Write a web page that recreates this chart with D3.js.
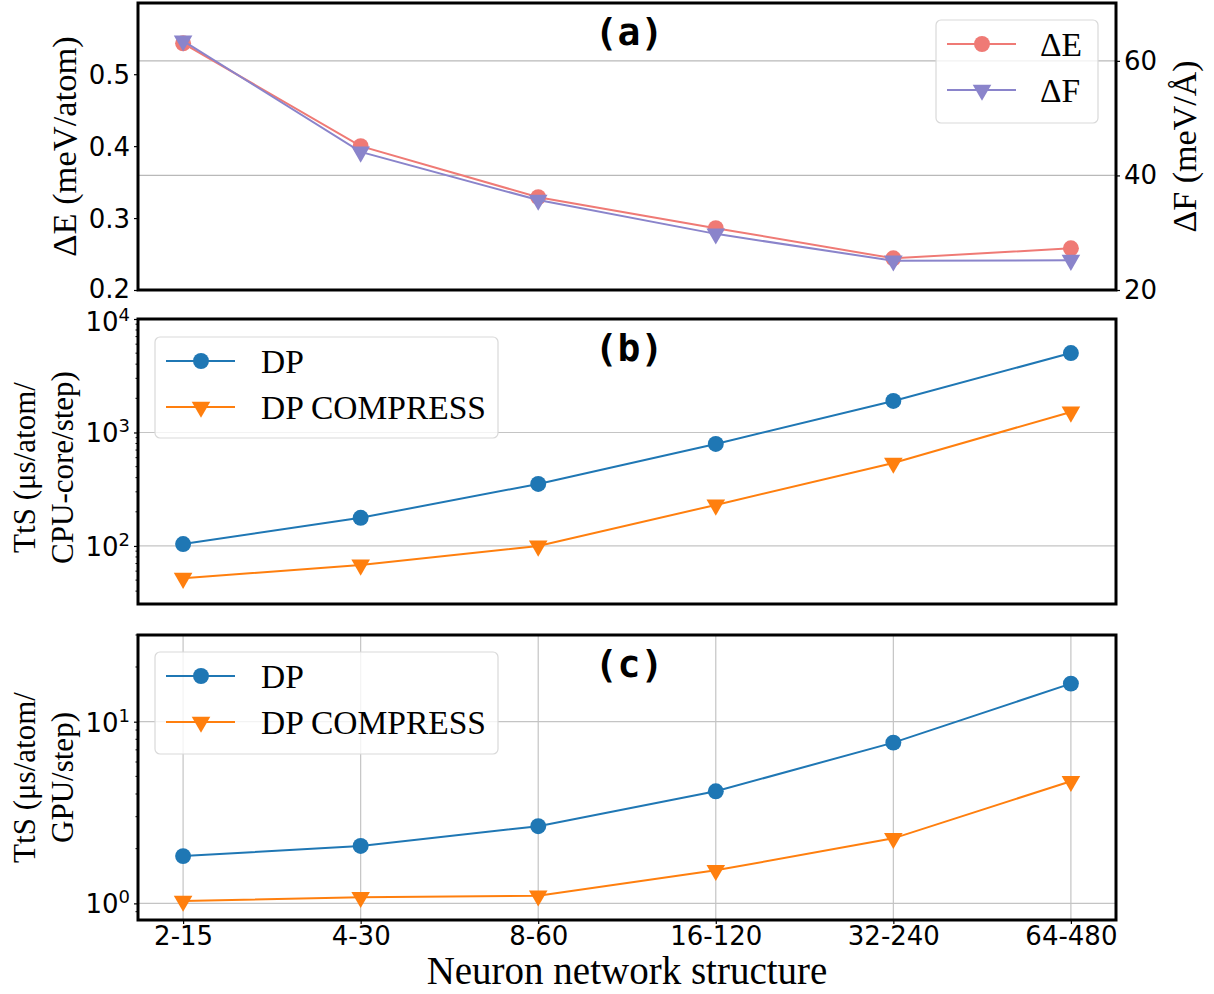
<!DOCTYPE html>
<html>
<head>
<meta charset="utf-8">
<script src="https://cdn.jsdelivr.net/npm/d3@7"></script>
<style>
  body { margin: 0; background: #fff; }
  svg text { fill: #000; }
</style>
</head>
<body>
<div id="chart"></div>
<script>
// ---- data ----
const categories  = ["2-15", "4-30", "8-60", "16-120", "32-240", "64-480"];
const deltaE      = [0.543, 0.400, 0.329, 0.286, 0.244, 0.258];   // meV/atom
const deltaF      = [63.5, 44.1, 35.7, 29.8, 25.1, 25.2];         // meV/Å
const cpuDP       = [104, 177, 352, 792, 1897, 5010];             // µs/atom/CPU-core/step
const cpuCompress = [52, 68, 100, 230, 538, 1517];
const gpuDP       = [1.82, 2.07, 2.66, 4.14, 7.67, 16.2];         // µs/atom/GPU/step
const gpuCompress = [1.03, 1.08, 1.10, 1.52, 2.28, 4.70];

const eTicks   = [0.2, 0.3, 0.4, 0.5];
const fTicks   = [20, 40, 60];
const cpuTicks = [100, 1000, 10000];
const gpuTicks = [1, 10];

const W = 1214, H = 994;
const left = 138, right = 1116;
const tickFont = "'DejaVu Sans', sans-serif";
const serif = "'Liberation Serif', 'Times New Roman', serif";

const svg = d3.select('#chart').append('svg')
  .attr('width', W).attr('height', H);

const x = d3.scaleLinear().domain([-0.254, 5.254]).range([left, right]);

const blue = '#1f77b4', orange = '#ff7f0e';
const pink = '#ef7a75', purple = '#8a84cb';

const circle = d3.symbol(d3.symbolCircle, 200);
const tri = d3.symbol(d3.symbolTriangle, 150);

function drawSeries(g, yScale, vals, color, marker) {
  const line = d3.line().x((d, i) => x(i)).y(d => yScale(d));
  g.append('path').datum(vals)
    .attr('d', line).attr('fill', 'none')
    .attr('stroke', color).attr('stroke-width', 2);
  g.selectAll(null).data(vals).join('path')
    .attr('d', marker === 'o' ? circle : tri)
    .attr('transform', (d, i) => `translate(${x(i)},${yScale(d)})` + (marker === 'v' ? ' rotate(180)' : ''))
    .attr('fill', color);
}

function powLabel(sel, v) {
  const e = Math.round(Math.log10(v));
  sel.text('10').append('tspan')
    .attr('baseline-shift', 'super').attr('font-size', 18).text(e);
}

function legend(g, x0, y0, w, h, items) {
  g.append('rect')
    .attr('x', x0).attr('y', y0).attr('width', w).attr('height', h)
    .attr('rx', 5).attr('fill', 'white').attr('fill-opacity', 0.8)
    .attr('stroke', '#d9d9d9').attr('stroke-width', 1.2);
  items.forEach((it, i) => {
    const yy = y0 + 24 + i * 46;
    g.append('line')
      .attr('x1', x0 + 11).attr('x2', x0 + 80)
      .attr('y1', yy).attr('y2', yy)
      .attr('stroke', it.color).attr('stroke-width', 2);
    g.append('path')
      .attr('d', it.marker === 'o' ? circle : tri)
      .attr('transform', `translate(${x0 + 46},${yy})` + (it.marker === 'v' ? ' rotate(180)' : ''))
      .attr('fill', it.color);
    g.append('text')
      .attr('x', x0 + it.dx).attr('y', yy + 12)
      .attr('font-family', serif).attr('font-size', 33.5)
      .text(it.label);
  });
}

function frame(g, top, bottom) {
  g.append('rect')
    .attr('x', left).attr('y', top)
    .attr('width', right - left).attr('height', bottom - top)
    .attr('fill', 'none').attr('stroke', '#000').attr('stroke-width', 3);
}

function panelTitle(g, top, txt) {
  g.append('text')
    .attr('x', 629).attr('y', top + 42)
    .attr('text-anchor', 'middle')
    .attr('font-family', "'DejaVu Sans Mono', monospace")
    .attr('font-weight', 'bold').attr('font-size', 38)
    .text(txt);
}

function styleAxis(ax) {
  ax.select('.domain').remove();
  ax.selectAll('.tick line').attr('stroke', '#000').attr('stroke-width', 1.2);
  ax.selectAll('.tick text')
    .attr('font-family', tickFont).attr('font-size', 26).attr('fill', '#000');
}

// ================= panel (a) =================
{
  const top = 3, bottom = 290;
  const g = svg.append('g');
  const yE = d3.scaleLinear().domain([0.2, 0.599]).range([bottom, top]);
  const yF = d3.scaleLinear().domain([20, 70.1]).range([bottom, top]);

  // grid from twin axis
  g.selectAll(null).data(fTicks.slice(1)).join('line')
    .attr('x1', left).attr('x2', right)
    .attr('y1', d => yF(d)).attr('y2', d => yF(d))
    .attr('stroke', '#b9b9b9').attr('stroke-width', 1.2);

  drawSeries(g, yE, deltaE, pink, 'o');
  drawSeries(g, yF, deltaF, purple, 'v');

  const axL = g.append('g').attr('transform', `translate(${left},0)`)
    .call(d3.axisLeft(yE).tickValues(eTicks).tickSize(4).tickPadding(4).tickFormat(d3.format('.1f')));
  styleAxis(axL);
  axL.selectAll('.tick text').attr('dy', '0.36em');
  axL.selectAll('.tick text').filter(d => d === 0.2).attr('dy', '0.3em');

  const axR = g.append('g').attr('transform', `translate(${right},0)`)
    .call(d3.axisRight(yF).tickValues(fTicks).tickSize(4).tickPadding(4));
  styleAxis(axR);

  frame(g, top, bottom);
  panelTitle(g, top, '(a)');

  g.append('text')
    .attr('transform', `translate(76,${(top + bottom) / 2}) rotate(-90)`)
    .attr('text-anchor', 'middle')
    .attr('font-family', serif).attr('font-size', 34.5)
    .text('ΔE (meV/atom)');
  g.append('text')
    .attr('transform', `translate(1196,${(top + bottom) / 2}) rotate(-90)`)
    .attr('text-anchor', 'middle')
    .attr('font-family', serif).attr('font-size', 34)
    .text('ΔF (meV/Å)');

  legend(g, 936, 20, 162, 103, [
    { label: 'ΔE', color: pink, marker: 'o', dx: 104 },
    { label: 'ΔF', color: purple, marker: 'v', dx: 104 }
  ]);
}

// ================= panel (b) =================
{
  const top = 319, bottom = 604;
  const g = svg.append('g');
  const y = d3.scaleLog().domain([30.8, 10000]).range([bottom, top]);

  g.selectAll(null).data([100, 1000]).join('line')
    .attr('x1', left).attr('x2', right)
    .attr('y1', d => y(d)).attr('y2', d => y(d))
    .attr('stroke', '#c4c4c4').attr('stroke-width', 1.2);

  drawSeries(g, y, cpuDP, blue, 'o');
  drawSeries(g, y, cpuCompress, orange, 'v');

  // minor ticks
  const minor = [];
  for (let p = 1; p < 4; p++) for (let k = 2; k < 10; k++) {
    const v = k * Math.pow(10, p);
    if (v >= 30.8 && v <= 10000) minor.push(v);
  }
  g.selectAll(null).data(minor).join('line')
    .attr('x1', left - 2.5).attr('x2', left)
    .attr('y1', d => y(d)).attr('y2', d => y(d))
    .attr('stroke', '#000').attr('stroke-width', 1);

  const ax = g.append('g').attr('transform', `translate(${left},0)`)
    .call(d3.axisLeft(y).tickValues(cpuTicks).tickSize(4).tickPadding(4).tickFormat(''));
  styleAxis(ax);
  ax.selectAll('.tick text').each(function (d) { powLabel(d3.select(this), d); })
    .attr('dy', '0.36em');
  // nudge the top label slightly so it clears the 0.2 label above
  ax.selectAll('.tick text').filter(d => d === 10000).attr('dy', '0.46em');

  frame(g, top, bottom);
  panelTitle(g, top, '(b)');

  const yl = g.append('text')
    .attr('transform', `translate(0,${(top + bottom) / 2 + 6}) rotate(-90)`)
    .attr('text-anchor', 'middle')
    .attr('font-family', serif).attr('font-size', 31);
  yl.append('tspan').attr('x', 0).attr('y', 35).text('TtS (μs/atom/');
  yl.append('tspan').attr('x', 0).attr('y', 73).text('CPU-core/step)');

  legend(g, 155, 337, 343, 101, [
    { label: 'DP', color: blue, marker: 'o', dx: 106 },
    { label: 'DP COMPRESS', color: orange, marker: 'v', dx: 106 }
  ]);
}

// ================= panel (c) =================
{
  const top = 635, bottom = 920;
  const g = svg.append('g');
  const y = d3.scaleLog().domain([0.81, 30]).range([bottom, top]);

  // grid
  g.selectAll(null).data(gpuTicks).join('line')
    .attr('x1', left).attr('x2', right)
    .attr('y1', d => y(d)).attr('y2', d => y(d))
    .attr('stroke', '#c4c4c4').attr('stroke-width', 1.2);
  g.selectAll(null).data(categories).join('line')
    .attr('x1', (d, i) => x(i)).attr('x2', (d, i) => x(i))
    .attr('y1', top).attr('y2', bottom)
    .attr('stroke', '#c4c4c4').attr('stroke-width', 1.2);

  drawSeries(g, y, gpuDP, blue, 'o');
  drawSeries(g, y, gpuCompress, orange, 'v');

  const minor = [];
  for (let p = -1; p < 2; p++) for (let k = 2; k < 10; k++) {
    const v = k * Math.pow(10, p);
    if (v >= 0.81 && v <= 30) minor.push(v);
  }
  g.selectAll(null).data(minor).join('line')
    .attr('x1', left - 2.5).attr('x2', left)
    .attr('y1', d => y(d)).attr('y2', d => y(d))
    .attr('stroke', '#000').attr('stroke-width', 1);

  const ax = g.append('g').attr('transform', `translate(${left},0)`)
    .call(d3.axisLeft(y).tickValues(gpuTicks).tickSize(4).tickPadding(4).tickFormat(''));
  styleAxis(ax);
  ax.selectAll('.tick text').each(function (d) { powLabel(d3.select(this), d); })
    .attr('dy', '0.36em');

  const axB = g.append('g').attr('transform', `translate(0,${bottom})`)
    .call(d3.axisBottom(x).tickValues(d3.range(categories.length))
      .tickSize(4).tickPadding(3).tickFormat(i => categories[i]));
  styleAxis(axB);

  frame(g, top, bottom);
  panelTitle(g, top, '(c)');

  const yl = g.append('text')
    .attr('transform', `translate(0,${(top + bottom) / 2}) rotate(-90)`)
    .attr('text-anchor', 'middle')
    .attr('font-family', serif).attr('font-size', 31);
  yl.append('tspan').attr('x', 0).attr('y', 35).text('TtS (μs/atom/');
  yl.append('tspan').attr('x', 0).attr('y', 73).text('GPU/step)');

  legend(g, 155, 652, 343, 102, [
    { label: 'DP', color: blue, marker: 'o', dx: 106 },
    { label: 'DP COMPRESS', color: orange, marker: 'v', dx: 106 }
  ]);

  g.append('text')
    .attr('x', 627).attr('y', 984)
    .attr('text-anchor', 'middle')
    .attr('font-family', serif).attr('font-size', 39)
    .text('Neuron network structure');
}
</script>
</body>
</html>
